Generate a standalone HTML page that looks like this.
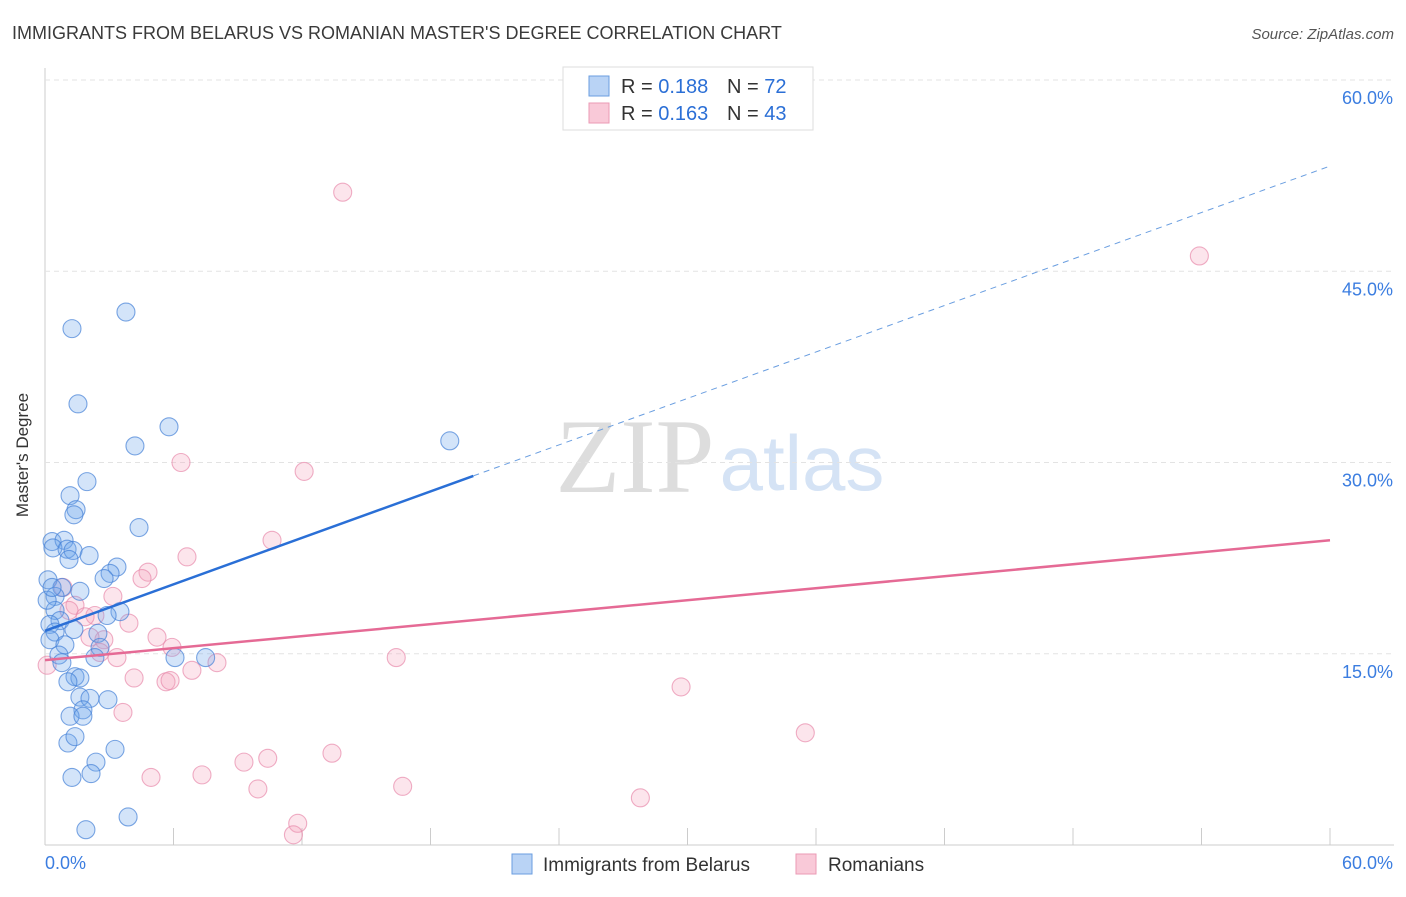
<!DOCTYPE html>
<html><head><meta charset="utf-8"><style>
body{margin:0;background:#fff;font-family:"Liberation Sans",sans-serif}
</style></head><body>
<svg width="1406" height="892" xmlns="http://www.w3.org/2000/svg" id="svg" font-family="Liberation Sans, sans-serif">
<text x="12" y="39" font-size="18" fill="#3a3a3a">IMMIGRANTS FROM BELARUS VS ROMANIAN MASTER'S DEGREE CORRELATION CHART</text>
<text x="1394" y="39" font-size="15" fill="#555" font-style="italic" text-anchor="end">Source: ZipAtlas.com</text>
<text x="28" y="455" font-size="17" fill="#333" transform="rotate(-90 28 455)" text-anchor="middle">Master's Degree</text>
<g><text x="635" y="492" font-size="106" fill="#ddd" text-anchor="middle" font-family="Liberation Serif, serif">ZIP</text><text x="802" y="490" font-size="78" fill="#d5e3f5" text-anchor="middle">atlas</text></g>
<g id="grid"></g><g id="pts"></g><g id="lines"></g>
<g>
<rect x="563" y="67" width="250" height="63" fill="#fff" stroke="#ddd"/>
<rect x="589" y="76" width="20" height="20" fill="#b9d3f5" stroke="#6a9ee0"/>
<rect x="589" y="103" width="20" height="20" fill="#f9c9d8" stroke="#eb9ab5"/>
<text x="621" y="93" font-size="20" fill="#333">R = <tspan fill="#2b6fd6">0.188</tspan></text>
<text x="727" y="93" font-size="20" fill="#333">N = <tspan fill="#2b6fd6">72</tspan></text>
<text x="621" y="120" font-size="20" fill="#333">R = <tspan fill="#2b6fd6">0.163</tspan></text>
<text x="727" y="120" font-size="20" fill="#333">N = <tspan fill="#2b6fd6">43</tspan></text>
</g>
<g>
<rect x="512" y="854" width="20" height="20" fill="#b9d3f5" stroke="#6a9ee0"/>
<text x="543" y="871" font-size="19" fill="#333">Immigrants from Belarus</text>
<rect x="796" y="854" width="20" height="20" fill="#f9c9d8" stroke="#eb9ab5"/>
<text x="828" y="871" font-size="19" fill="#333">Romanians</text>
</g>
</svg>
<script>
const yTicks=[15,30,45,60];
const yTickLabels=["15.0%","30.0%","45.0%","60.0%"];
const xTicks=[0,6,12,18,24,30,36,42,48,54,60];
const blueX=[3.78,1.26,1.54,5.79,4.2,18.9,1.96,1.17,1.45,1.35,4.39,0.33,0.89,0.37,1.03,1.31,2.06,1.12,3.36,3.04,2.76,0.14,0.79,1.63,0.47,3.5,2.9,0.47,0.7,0.23,1.35,2.47,0.47,0.23,0.93,2.57,0.65,2.33,6.07,7.5,0.79,1.4,1.63,1.07,1.63,2.1,2.94,1.77,1.17,1.77,1.07,1.4,3.27,2.38,2.15,1.26,3.88,1.91,0.1,0.33];
const blueY=[41.8,40.5,34.6,32.8,31.3,31.7,28.5,27.4,26.3,25.9,24.9,23.8,23.9,23.3,23.2,23.1,22.7,22.4,21.8,21.3,20.9,20.8,20.2,19.9,19.5,18.3,18.0,18.4,17.6,17.3,16.9,16.6,16.7,16.1,15.7,15.5,14.9,14.7,14.7,14.7,14.3,13.2,13.1,12.8,11.6,11.5,11.4,10.6,10.1,10.1,8.0,8.5,7.5,6.5,5.6,5.3,2.2,1.2,19.2,20.2];
const pinkX=[13.9,53.9,6.35,12.1,10.6,6.63,4.81,4.53,0.84,3.17,1.4,1.12,2.33,1.87,3.92,5.23,2.75,2.1,5.93,2.57,3.36,16.4,8.03,6.86,0.1,4.16,5.65,5.84,29.7,3.64,35.5,13.4,10.4,9.29,4.95,7.33,16.7,9.94,27.8,11.8,11.6];
const pinkY=[51.2,46.2,30.0,29.3,23.9,22.6,21.4,20.9,20.2,19.5,18.8,18.4,18.0,17.9,17.4,16.3,16.1,16.3,15.5,15.1,14.7,14.7,14.3,13.7,14.1,13.1,12.8,12.9,12.4,10.4,8.8,7.2,6.8,6.5,5.3,5.5,4.6,4.4,3.7,1.7,0.8];
const blueTrend=[16.8,53.25];
const pinkTrend=[14.5,23.9];
const NS="http://www.w3.org/2000/svg";
const X=v=>45+v*(1285/60), Y=v=>845-v*(765/60);
function mk(t,a,p){const e=document.createElementNS(NS,t);for(const k in a)e.setAttribute(k,a[k]);p.appendChild(e);return e;}
const g=document.getElementById('grid');
let ax=mk('line',{x1:45,y1:845,x2:1394,y2:845,stroke:'#ccc'},g);


let ay=mk('line',{x1:45,y1:68,x2:45,y2:845,stroke:'#ccc'},g);


yTicks.forEach((v,i)=>{
 let l=mk('line',{x1:45,y1:Y(v),x2:1394,y2:Y(v),stroke:'#e3e3e3','stroke-dasharray':'5,4'},g);
 
 
 let t=mk('text',{x:1393,y:Y(v)+24,'font-size':18,fill:'#3b7de0','text-anchor':'end'},g);t.textContent=yTickLabels[i];
 
 
});
xTicks.forEach(v=>{let l=mk('line',{x1:X(v),y1:828,x2:X(v),y2:845,stroke:'#ccc'},g);
 
 });
let t0=mk('text',{x:45,y:869,'font-size':18,fill:'#3b7de0'},g);t0.textContent='0.0%';


let t1=mk('text',{x:1393,y:869,'font-size':18,fill:'#3b7de0','text-anchor':'end'},g);t1.textContent='60.0%';


const p=document.getElementById('pts');
pinkX.forEach((v,i)=>{let c=mk('circle',{cx:X(v),cy:Y(pinkY[i]),r:9,fill:'rgba(243,160,188,0.28)',stroke:'rgba(232,140,172,0.7)','stroke-width':1.1},p);
 
 });
blueX.forEach((v,i)=>{let c=mk('circle',{cx:X(v),cy:Y(blueY[i]),r:9,fill:'rgba(110,165,235,0.3)',stroke:'rgba(70,130,215,0.7)','stroke-width':1.1},p);
 
 });
const L=document.getElementById('lines');
const by=x=>blueTrend[0]+(blueTrend[1]-blueTrend[0])*x/60;
let b1=mk('line',{x1:X(0),y1:Y(by(0)),x2:X(20),y2:Y(by(20)),stroke:'#2a6fd6','stroke-width':2.5},L);


let b2=mk('line',{x1:X(20),y1:Y(by(20)),x2:X(60),y2:Y(by(60)),stroke:'#6a9ee0','stroke-width':1,'stroke-dasharray':'6,5'},L);


let pl=mk('line',{x1:X(0),y1:Y(pinkTrend[0]),x2:X(60),y2:Y(pinkTrend[1]),stroke:'#e56a95','stroke-width':2.5},L);


</script>
</body></html>
